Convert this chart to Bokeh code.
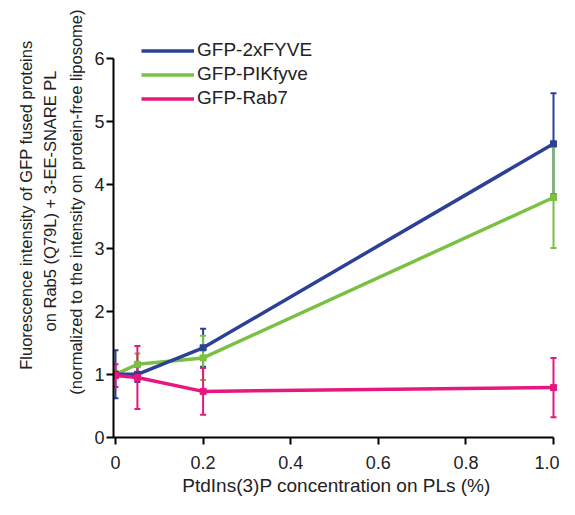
from bokeh.plotting import figure
from bokeh.models import (Range1d, Whisker, ColumnDataSource, Legend, LegendItem,
                          Title, FixedTicker, TeeHead)
from bokeh.embed import file_html
from bokeh.resources import INLINE

# ---- data ----
conc = [0, 0.05, 0.2, 1.0]
fyve_mean = [1.00, 1.00, 1.42, 4.65]
fyve_sd = [0.38, 0.12, 0.30, 0.80]
pikfyve_mean = [1.00, 1.16, 1.26, 3.80]
pikfyve_sd = [0.06, 0.17, 0.35, 0.80]
rab7_mean = [0.98, 0.95, 0.73, 0.79]
rab7_sd = [0.18, 0.50, 0.37, 0.47]

series_names = ["GFP-2xFYVE", "GFP-PIKfyve", "GFP-Rab7"]
series_colors = ["#2B4197", "#7AC143", "#E6177E"]

x_ticks = [0, 0.2, 0.4, 0.6, 0.8, 1.0]
x_tick_labels = ["0", "0.2", "0.4", "0.6", "0.8", "1.0"]
y_ticks = [0, 1, 2, 3, 4, 5, 6]

x_title = "PtdIns(3)P concentration on PLs (%)"
y_title_lines = ["Fluorescence intensity of GFP fused proteins",
                 "on Rab5 (Q79L) + 3-EE-SNARE PL",
                 "(normalized to the intensity on protein-free liposome)"]

FONT = "Liberation Sans"
TXT = "#222222"

x_start = -0.00457
p = figure(width=559, height=499, output_backend="svg", toolbar_location=None,
           x_range=Range1d(x_start, 1.0137), y_range=Range1d(0, 6.475),
           min_border_left=113, min_border_right=0, min_border_top=28,
           min_border_bottom=62)
p.outline_line_color = None
p.xgrid.visible = False
p.ygrid.visible = False

for ax in (p.xaxis, p.yaxis):
    ax.axis_line_width = 2
    ax.axis_line_color = "black"
    ax.major_tick_line_width = 2
    ax.major_tick_line_color = "black"
    ax.major_tick_out = 7
    ax.major_tick_in = 0
    ax.minor_tick_line_color = None
    ax.major_label_text_font = FONT
    ax.major_label_text_font_size = "18px"
    ax.major_label_text_color = TXT

p.xaxis.ticker = FixedTicker(ticks=x_ticks)
p.xaxis.major_label_overrides = dict(zip(x_ticks, x_tick_labels))
p.xaxis.bounds = (x_start, 1.0)
p.xaxis.major_label_standoff = 11
p.xaxis.axis_label = x_title
p.xaxis.axis_label_text_font = FONT
p.xaxis.axis_label_text_font_size = "19px"
p.xaxis.axis_label_text_font_style = "normal"
p.xaxis.axis_label_text_color = TXT
p.xaxis.axis_label_standoff = 3

p.yaxis.ticker = FixedTicker(ticks=y_ticks)
p.yaxis.bounds = (0, 6)
p.yaxis.major_label_standoff = 2

# y-axis title: one line per Title in the left panel, innermost line first,
# each right-aligned (top end) with an offset so the lines are centred together
offsets = [12, 42, -19]
standoffs = [7, 0, 13]
for i in [2, 1, 0]:
    p.add_layout(Title(text=y_title_lines[i], align="right", offset=offsets[i],
                       vertical_align="bottom", standoff=standoffs[i],
                       text_font=FONT, text_font_size="16.5px",
                       text_font_style="normal", text_color=TXT), "left")

means = [fyve_mean, pikfyve_mean, rab7_mean]
sds = [fyve_sd, pikfyve_sd, rab7_sd]
sources = []
for m, s in zip(means, sds):
    sources.append(ColumnDataSource(dict(
        x=conc, y=m,
        upper=[a + b for a, b in zip(m, s)],
        lower=[a - b for a, b in zip(m, s)])))

line_renderers = {}
for idx in [1, 0, 2]:
    src = sources[idx]
    col = series_colors[idx]
    r = p.line("x", "y", source=src, line_color=col, line_width=3.5)
    p.scatter("x", "y", source=src, marker="square", size=6,
              fill_color=col, line_color=col)
    line_renderers[idx] = r

for idx in [0, 1, 2]:
    src = sources[idx]
    col = series_colors[idx]
    w = Whisker(source=src, base="x", upper="upper", lower="lower",
                line_color=col, line_width=2,
                upper_head=TeeHead(size=6, line_color=col, line_width=2),
                lower_head=TeeHead(size=6, line_color=col, line_width=2))
    p.add_layout(w)

legend = Legend(items=[LegendItem(label=series_names[i], renderers=[line_renderers[i]])
                       for i in range(3)],
                location=(28, 328), orientation="vertical",
                padding=0, margin=0, spacing=2,
                glyph_width=53, glyph_height=21, label_height=21,
                label_standoff=3,
                label_text_font=FONT, label_text_font_size="19px",
                label_text_color=TXT,
                border_line_color=None, background_fill_alpha=0)
p.add_layout(legend)

open("out.html", "w").write(file_html(p, INLINE))
